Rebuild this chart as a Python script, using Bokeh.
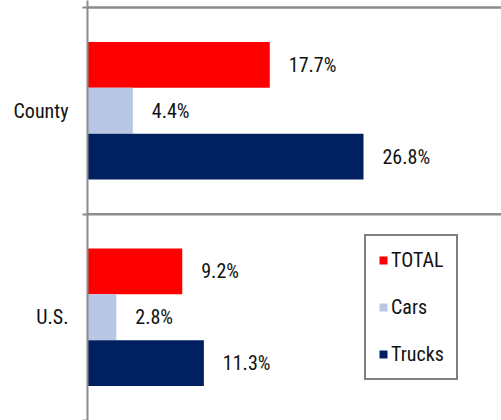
from bokeh.plotting import figure
from bokeh.models import Range1d, FixedTicker, Legend, LegendItem, ColumnDataSource, Span
from bokeh.core.properties import value
from bokeh.embed import file_html
from bokeh.resources import INLINE

categories = ["U.S.", "County"]
series = ["TOTAL", "Cars", "Trucks"]
total = [9.2, 17.7]
cars = [2.8, 4.4]
trucks = [11.3, 26.8]
colors = ["#FF0000", "#B9C7E4", "#002060"]

FONT = "Roboto Condensed, Archivo Narrow, sans-serif"
GRAY = "#8C8C8C"
FS = "20px"

p = figure(width=501, height=420, output_backend="svg", toolbar_location=None, title=None,
           x_range=Range1d(0, 40.2), y_range=Range1d(0, len(categories) + 0.034),
           min_border_left=87, min_border_right=0, min_border_top=0, min_border_bottom=0)
p.outline_line_color = None
p.background_fill_color = "white"
p.border_fill_color = "white"

offsets = [2 / 9, 0, -2 / 9]
bar_h = 2 / 9
renderers = []
for vals, name, color, off in zip([total, cars, trucks], series, colors, offsets):
    ys = [i + 0.5 + off for i in range(len(categories))]
    src = ColumnDataSource(dict(y=ys, v=vals, lab=[f"{v}%" for v in vals]))
    r = p.hbar(y="y", right="v", left=0, height=bar_h, source=src,
               fill_color=color, line_color=None)
    renderers.append(r)
    p.text(x="v", y="y", text="lab", source=src, x_offset=19,
           text_baseline="middle", text_align="left",
           text_font=value(FONT), text_font_size=FS, text_color="#111111")

p.xaxis.visible = False
p.xgrid.visible = False
p.ygrid.visible = False

# separators between categories
sep = p.hspan(y=list(range(1, len(categories) + 1)), line_color=GRAY, line_width=2)
sep.level = "overlay"
for loc in range(1, len(categories) + 1):
    p.add_layout(Span(location=loc, dimension="width", line_color=GRAY, line_width=2,
                      level="overlay"))

ax = p.yaxis[0]
ax.ticker = FixedTicker(ticks=[i + 0.5 for i in range(len(categories))],
                        minor_ticks=list(range(len(categories) + 1)))
ax.major_label_overrides = {i + 0.5: c for i, c in enumerate(categories)}
ax.major_tick_line_color = None
ax.minor_tick_line_color = GRAY
ax.minor_tick_line_width = 2
ax.minor_tick_out = 5
ax.minor_tick_in = 0
ax.axis_line_color = GRAY
ax.axis_line_width = 2
ax.major_label_text_font = FONT
ax.major_label_text_font_size = FS
ax.major_label_text_color = "#111111"
ax.major_label_standoff = 13

legend = Legend(items=[LegendItem(label=s, renderers=[r]) for s, r in zip(series, renderers)],
                location=(277, 40), orientation="vertical",
                glyph_width=10, glyph_height=10, label_standoff=3,
                label_height=20, spacing=23, padding=12,
                label_text_font=FONT, label_text_font_size=FS, label_text_color="#111111",
                border_line_color="black", border_line_width=2.5,
                background_fill_color="white", background_fill_alpha=1.0,
                margin=0)
p.add_layout(legend)

open("out.html", "w").write(file_html(p, INLINE))
